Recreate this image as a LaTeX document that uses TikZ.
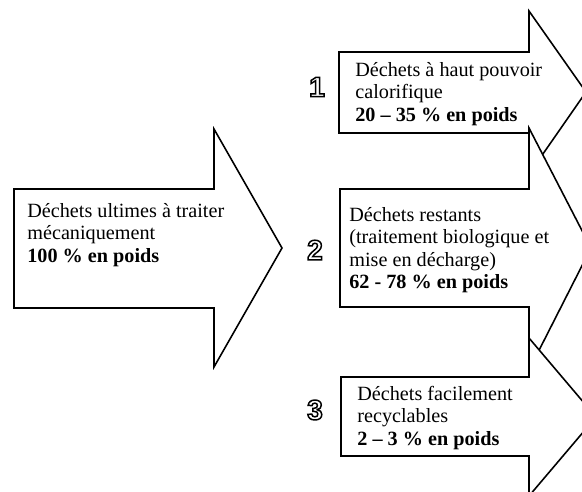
\documentclass[tikz,border=0pt]{standalone}
\usepackage{fontspec}
\setmainfont{Liberation Serif}
\newfontfamily\digitfont{Liberation Sans}
\usetikzlibrary{positioning}

% hollow digit: text drawn as outline only
\newcommand{\hollow}[1]{\special{pdf:literal direct 1 Tr 0.85 w}#1\special{pdf:literal direct 0 Tr}}

\begin{document}
\begin{tikzpicture}[x=0.02cm, y=-0.02cm,
  bigarrow/.style={draw=black, fill=white, line width=0.9pt, line join=miter},
  lbl/.style={align=left, anchor=west, inner sep=0pt,
              font=\fontsize{11.5}{12.8}\selectfont},
  digit/.style={inner sep=0pt, font=\digitfont\bfseries\fontsize{16}{16}\selectfont}]

\useasboundingbox (0,0) rectangle (582,491);
\clip (0,0) rectangle (582,491);

% input arrow
\draw[bigarrow] (14,189) -- (214,189) -- (214,129) -- (282,248)
  -- (214,367) -- (214,308) -- (14,308) -- cycle;
\node[lbl] (ultimes) at (27,235)
  {D\'echets ultimes \`a traiter\\m\'ecaniquement\\\textbf{100 \% en poids}};

% output arrows, each one over the one before
\draw[bigarrow] (339,52) -- (529,52) -- (529,11) -- (586,92)
  -- (529,174) -- (529,133) -- (339,133) -- cycle;
\draw[bigarrow] (340,189) -- (529,189) -- (529,128) -- (591,248)
  -- (529,370) -- (529,307) -- (340,307) -- cycle;
\draw[bigarrow] (341,377) -- (529,377) -- (529,338) -- (596,417)
  -- (529,496) -- (529,456) -- (341,456) -- cycle;

\node[lbl] (calor) at (355,94)
  {D\'echets \`a haut pouvoir\\calorifique\\\textbf{20 -- 35 \% en poids}};
\node[lbl] (restants) at (349,250)
  {D\'echets restants\\(traitement biologique et\\mise en d\'echarge)\\\textbf{62 - 78 \% en poids}};
\node[lbl] (recycl) at (357,418)
  {D\'echets facilement\\recyclables\\\textbf{2 -- 3 \% en poids}};

\node[digit] (n1) at (317,87) {\hollow{1}};
\node[digit] (n2) at (315,250) {\hollow{2}};
\node[digit] (n3) at (315,410) {\hollow{3}};
\end{tikzpicture}
\end{document}
